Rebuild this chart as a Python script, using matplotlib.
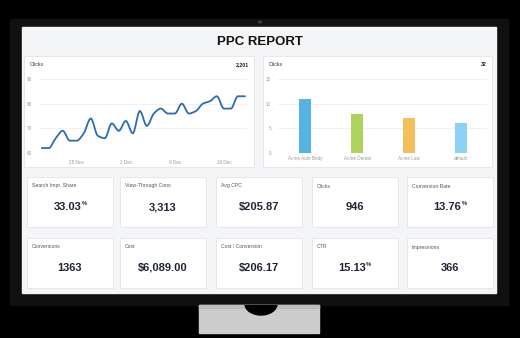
import matplotlib.pyplot as plt
import numpy as np
from matplotlib.patches import Rectangle, Ellipse
from matplotlib.path import Path
from matplotlib.patches import PathPatch

plt.rcParams['font.family'] = ['Liberation Sans', 'DejaVu Sans']

# line chart: daily clicks, 20 Nov .. 19 Dec
clicks_daily = [62, 62, 66, 69, 65, 65, 68, 74, 67, 66,
                72, 69, 73, 68, 77, 71, 76, 78, 76, 76,
                80, 76, 77, 80, 81, 83, 78, 78, 83, 83]
tick_days = [5, 12, 19, 26]
tick_labels = ['25 Nov', '2 Dec', '9 Dec', '16 Dec']
clicks_total = '2,201'

# bar chart: clicks per account
accounts = ['Acme Auto Body', 'Acme Dental', 'Acme Law', 'default']
account_clicks = [11, 8, 7, 6]
bar_colors = ['#55b4e2', '#aed35c', '#f5bf5c', '#8ed0f6']
bar_total = '32'

# KPI cards
card_labels = [['Search Impr. Share', 'View-Through Conv.', 'Avg CPC', 'Clicks', 'Conversion Rate'],
               ['Conversions', 'Cost', 'Cost / Conversion', 'CTR', 'Impressions']]
card_values = [['33.03', '3,313', '$205.87', '946', '13.76'],
               ['1363', '$6,089.00', '$206.17', '15.13', '366']]
card_pct = [[True, False, False, False, True],
            [False, False, False, True, False]]

W, H = 520, 338
fig = plt.figure(figsize=(W / 100, H / 100), dpi=100)
fig.patch.set_facecolor('black')

bg = fig.add_axes([0, 0, 1, 1])
bg.set_xlim(0, W)
bg.set_ylim(H, 0)
bg.axis('off')

# monitor
bg.add_patch(Rectangle((10, 19), 498, 286, color='#101010'))
bg.add_patch(Ellipse((260, 22), 3, 2, color='#3a3a3a'))
bg.add_patch(Rectangle((22, 27), 474, 266, color='#f4f5f7'))
stand = Rectangle((199, 305), 120, 28, color='#cdcdcd')
bg.add_patch(stand)
bg.add_patch(Rectangle((199, 305), 120, 3, color='#bdbdbd'))
notch = Ellipse((261, 304), 32, 22, color='black')
bg.add_patch(notch)
notch.set_clip_path(stand)

bg.text(260, 42, 'PPC REPORT', fontsize=9.5, fontweight='bold',
        ha='center', va='center', color='#111111')

# chart panels
for x0, x1, title, total in [(24, 254, 'Clicks', clicks_total),
                             (263, 492, 'Clicks', bar_total)]:
    bg.add_patch(Rectangle((x0, 56), x1 - x0, 111, facecolor='white',
                           edgecolor='#e2e4e8', lw=0.6))
    bg.text(x0 + 6, 65, title, fontsize=3.8, color='#333333', va='center')
    bg.text(x1 - 5, 65, total, fontsize=3.8, fontweight='bold',
            color='#222222', va='center', ha='right')


def px_axes(x0, y0, x1, y1):
    a = fig.add_axes([x0 / W, 1 - y1 / H, (x1 - x0) / W, (y1 - y0) / H])
    a.set_facecolor('none')
    for s in a.spines.values():
        s.set_visible(False)
    a.tick_params(length=0, labelsize=3.3, labelcolor='#9a9a9a')
    a.grid(axis='y', color='#ececec', lw=0.5)
    a.set_axisbelow(True)
    return a


# line chart with monotone cubic smoothing
ax1 = px_axes(40, 79, 247, 153)
y = np.array(clicks_daily, dtype=float)
x = np.arange(len(y))
d = np.diff(y)
m = np.zeros_like(y)
m[0], m[-1] = d[0], d[-1]
for i in range(1, len(y) - 1):
    if d[i - 1] * d[i] > 0:
        m[i] = 2 / (1 / d[i - 1] + 1 / d[i])
verts = [(x[0], y[0])]
codes = [Path.MOVETO]
for i in range(len(y) - 1):
    verts += [(x[i] + 1 / 3, y[i] + m[i] / 3),
              (x[i + 1] - 1 / 3, y[i + 1] - m[i + 1] / 3),
              (x[i + 1], y[i + 1])]
    codes += [Path.CURVE4] * 3
ax1.add_patch(PathPatch(Path(verts, codes), facecolor='none',
                        edgecolor='#2c6cb2', lw=1.3, capstyle='round'))
ax1.set_xlim(-0.25, 29.3)
ax1.set_ylim(60, 90)
ax1.set_yticks([60, 70, 80, 90])
ax1.set_xticks(tick_days)
ax1.set_xticklabels(tick_labels)
ax1.tick_params(axis='y', pad=6)
ax1.tick_params(axis='x', pad=5)

# bar chart
ax2 = px_axes(278, 79, 487, 153)
ax2.bar(range(len(accounts)), account_clicks, width=0.23, color=bar_colors)
ax2.set_xlim(-0.52, 3.5)
ax2.set_ylim(0, 15)
ax2.set_yticks([0, 5, 10, 15])
ax2.set_xticks(range(len(accounts)))
ax2.set_xticklabels(accounts)
ax2.tick_params(axis='y', pad=5)
ax2.tick_params(axis='x', pad=2)

# KPI cards
card_x = [27, 120, 216, 312, 407]
card_y = [177, 238]
for r, top in enumerate(card_y):
    for c, left in enumerate(card_x):
        bg.add_patch(Rectangle((left, top), 86, 50, facecolor='white',
                               edgecolor='#e2e4e8', lw=0.6))
        bg.text(left + 5, top + 9, card_labels[r][c], fontsize=3.7,
                color='#555555', va='center')
        cx = left + 43
        pct = card_pct[r][c]
        t = bg.text(cx - (2.5 if pct else 0), top + 30, card_values[r][c],
                    fontsize=8, fontweight='bold', color='#1f2535',
                    ha='center', va='center')
        if pct:
            bg.annotate('%', xy=(1, 0.85), xycoords=t, fontsize=4.2,
                        fontweight='bold', color='#1f2535',
                        ha='left', va='center')

fig.savefig('out.png', dpi=100, facecolor='black')
